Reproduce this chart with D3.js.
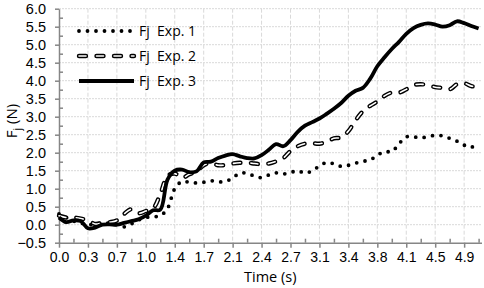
<!DOCTYPE html>
<html>
<head>
<meta charset="utf-8">
<script src="https://cdn.jsdelivr.net/npm/d3@7"></script>
<style>
	body { margin: 0; background: #fff; }
	svg { display: block; font-family: "Open Sans", "Noto Sans", sans-serif; }
</style>
</head>
<body>
<div id="container"></div>
<script>
// tick labels on the time axis (one every 4 samples)
var timeLabels = ["0.0","0.3","0.7","1.0","1.4","1.7","2.1","2.4","2.7","3.1","3.4","3.8","4.1","4.5","4.9"];
var yTicks = [-0.5,0,0.5,1,1.5,2,2.5,3,3.5,4,4.5,5,5.5,6];

// Fj, one value per quarter of a label step
var exp1 = [0.30,0.20,0.10,0.05,0.00,0.02,0.05,0.04,0.00,-0.06,0.02,0.13,0.20,0.22,0.25,0.45,
	1.00,1.20,1.18,1.16,1.18,1.22,1.19,1.20,1.30,1.43,1.43,1.35,1.31,1.38,1.44,1.41,
	1.45,1.50,1.43,1.50,1.63,1.73,1.69,1.62,1.65,1.71,1.76,1.80,1.93,2.03,2.03,2.25,
	2.44,2.44,2.41,2.45,2.48,2.47,2.40,2.32,2.21,2.15,2.31];
var exp2 = [0.25,0.20,0.20,0.17,0.12,0.02,0.05,0.07,0.12,0.30,0.43,0.32,0.38,0.45,0.85,1.35,
	1.42,1.30,1.40,1.48,1.65,1.72,1.65,1.66,1.70,1.72,1.72,1.70,1.68,1.70,1.76,1.85,
	2.05,2.18,2.25,2.26,2.25,2.30,2.40,2.42,2.60,2.90,3.15,3.30,3.42,3.58,3.67,3.67,
	3.76,3.88,3.90,3.88,3.82,3.80,3.76,3.90,3.93,3.85,3.83];
var exp3 = [0.20,0.07,0.12,0.10,-0.10,-0.08,0.00,0.01,0.00,0.05,0.10,0.15,0.25,0.40,0.42,1.25,
	1.50,1.53,1.46,1.48,1.73,1.75,1.85,1.92,1.96,1.90,1.85,1.84,1.93,2.08,2.24,2.18,
	2.35,2.58,2.75,2.85,2.95,3.08,3.22,3.38,3.58,3.72,3.80,4.05,4.40,4.65,4.88,5.08,
	5.30,5.46,5.55,5.59,5.56,5.50,5.54,5.65,5.60,5.52,5.45];
var seriesNames = ["Fj  Exp. 1","Fj  Exp. 2","Fj  Exp. 3"];

(function()
{
	var width = 484, height = 288;
	var left = 59, right = 481.5, top = 8.7, bottom = 242.7;
	var axisColor = "#868686", gridColor = "#d9d9d9";

	var svg = d3.select("#container").append("svg")
		.attr("width", width).attr("height", height);

	var x = d3.scaleLinear().domain([0, 58.4]).range([left, right]);
	var y = d3.scaleLinear().domain([-0.5, 6]).range([bottom, top]);

	var labelIdx = timeLabels.map(function(d, i) { return i * 4; });

	// grid
	svg.append("g").selectAll("line").data(labelIdx.slice(1)).join("line")
		.attr("x1", function(d) { return x(d); }).attr("x2", function(d) { return x(d); })
		.attr("y1", top).attr("y2", bottom)
		.attr("stroke", gridColor).attr("stroke-dasharray", "4,2");
	svg.append("g").selectAll("line").data(yTicks.slice(1)).join("line")
		.attr("x1", left).attr("x2", right)
		.attr("y1", function(d) { return y(d); }).attr("y2", function(d) { return y(d); })
		.attr("stroke", gridColor).attr("stroke-dasharray", "2,1");

	// axes: major ticks outside, minor ticks inside
	var xAxis = svg.append("g").attr("transform", "translate(0," + bottom + ")")
		.call(d3.axisBottom(x).tickValues(labelIdx).tickSize(5).tickSizeOuter(0)
			.tickFormat(function(d, i) { return timeLabels[i]; }));
	var xMinor = svg.append("g").attr("transform", "translate(0," + bottom + ")")
		.call(d3.axisTop(x).tickValues(labelIdx.map(function(d) { return d + 2; }))
			.tickSize(4).tickSizeOuter(0).tickFormat(""));
	xMinor.select(".domain").remove();

	var yAxis = svg.append("g").attr("transform", "translate(" + left + ",0)")
		.call(d3.axisLeft(y).tickValues(yTicks).tickSize(4).tickSizeOuter(0)
			.tickFormat(d3.format(".1f")));
	var yMinor = svg.append("g").attr("transform", "translate(" + left + ",0)")
		.call(d3.axisRight(y).tickValues(yTicks.slice(1).map(function(d) { return d - 0.25; }))
			.tickSize(4).tickSizeOuter(0).tickFormat(""));
	yMinor.select(".domain").remove();

	[xAxis, xMinor, yAxis, yMinor].forEach(function(g)
	{
		g.selectAll(".domain, line").attr("stroke", axisColor).attr("stroke-width", 1.5);
		g.selectAll("text").attr("fill", "#000").style("font-size", "14.5px");
	});
	xAxis.selectAll("text").attr("dy", null).attr("y", 19.5).style("font-size", "14px");
	yAxis.selectAll("text").attr("x", -13).attr("dy", "0.35em");

	// axis titles
	svg.append("text").attr("x", (left + right) / 2).attr("y", 282)
		.attr("text-anchor", "middle").attr("fill", "#000").style("font-size", "14.5px")
		.text("Time (s)");
	var yt = svg.append("text").attr("transform", "translate(17,121) rotate(-90)")
		.attr("text-anchor", "middle").attr("fill", "#000").style("font-size", "15px");
	yt.append("tspan").text("F");
	yt.append("tspan").attr("dy", 4).style("font-size", "10px").text("j");
	yt.append("tspan").attr("dy", -4).text(" (N)");

	// series
	var line = d3.line()
		.x(function(d, i) { return x(i); })
		.y(function(d) { return y(d); })
		.curve(d3.curveCatmullRom.alpha(0.5));

	function drawDotted(g, d) { g.append("path").attr("d", d).attr("fill", "none")
		.attr("stroke", "#000").attr("stroke-width", 3.8)
		.attr("stroke-linecap", "round").attr("stroke-dasharray", "0,8.5"); }
	function drawDashed(g, d)
	{
		g.append("path").attr("d", d).attr("fill", "none")
			.attr("stroke", "#000").attr("stroke-width", 4.4)
			.attr("stroke-linecap", "round").attr("stroke-dasharray", "7,10.5");
		g.append("path").attr("d", d).attr("fill", "none")
			.attr("stroke", "#fff").attr("stroke-width", 1.6)
			.attr("stroke-linecap", "round").attr("stroke-dasharray", "7,10.5");
	}
	function drawSolid(g, d) { g.append("path").attr("d", d).attr("fill", "none")
		.attr("stroke", "#000").attr("stroke-width", 3.8)
		.attr("stroke-linejoin", "round"); }
	var styles = [drawDotted, drawDashed, drawSolid];

	[exp1, exp2, exp3].forEach(function(values, i)
	{
		styles[i](svg.append("g"), line(values));
	});

	// legend
	var legend = svg.append("g");
	seriesNames.forEach(function(name, i)
	{
		var ly = 31 + i * 25;
		styles[i](legend, d3.line()([[79, ly], [134, ly]]));
		legend.append("text").attr("x", 139).attr("y", ly).attr("dy", "0.35em")
			.attr("fill", "#000").style("font-size", "14px").style("white-space", "pre")
			.text(name);
	});
})();
</script>
</body>
</html>
